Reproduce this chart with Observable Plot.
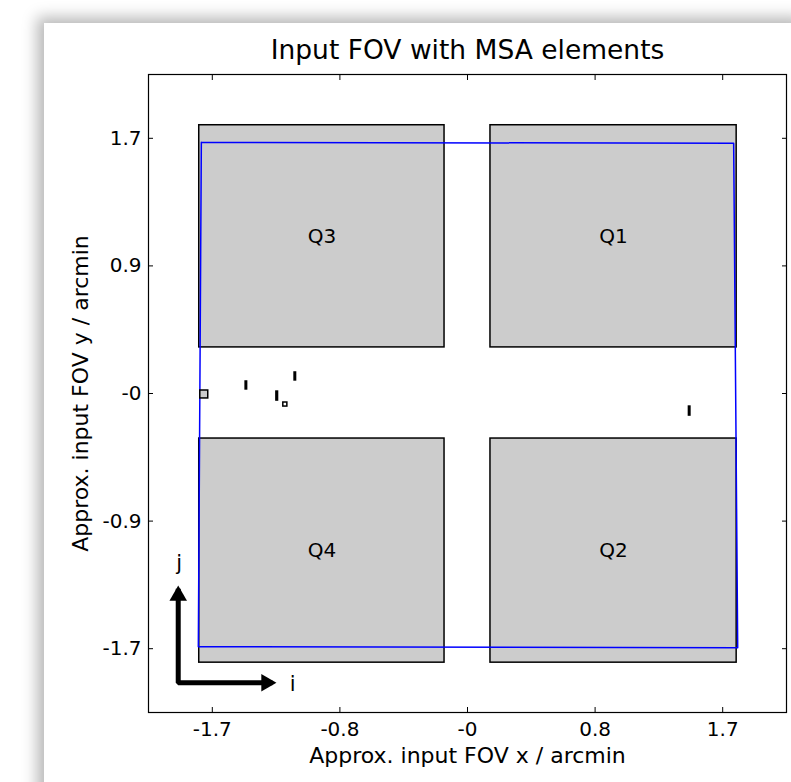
<!DOCTYPE html>
<html>
<head>
<meta charset="utf-8">
<script src="https://cdn.jsdelivr.net/npm/d3@7"></script>
<script src="https://cdn.jsdelivr.net/npm/@observablehq/plot@0.6"></script>
<style>
  html, body { margin: 0; padding: 0; background: #ffffff; overflow: hidden; }
  #card {
    position: absolute; left: 44px; top: 23px; width: 760px; height: 780px;
    background: #ffffff;
    box-shadow: -4px -3px 14px 3px rgba(0,0,0,0.28);
  }
  #chart { position: absolute; left: 0; top: 0; }
  svg { font-family: "DejaVu Sans", sans-serif; }
</style>
</head>
<body>
<div id="card"><div id="chart"></div></div>
<script>
// Quadrant boxes (arcmin)
const quadNames = ["Q3", "Q1", "Q4", "Q2"];
const quadX1 = [-1.787, 0.153, -1.787, 0.153];
const quadX2 = [-0.153, 1.793, -0.153, 1.793];
const quadY1 = [0.307, 0.307, -1.793, -1.793];
const quadY2 = [1.787, 1.787, -0.300, -0.300];

// Input FOV outline (closed)
const fovX = [-1.773, 1.773, 1.800, -1.793, -1.773];
const fovY = [1.673, 1.667, -1.693, -1.687, 1.673];

// Small MSA elements
const elemX1 = [-1.780, -1.478, -1.273, -1.227, -1.152, 1.475];
const elemX2 = [-1.727, -1.468, -1.262, -1.200, -1.142, 1.485];
const elemY1 = [-0.033, 0.027, -0.047, -0.087, 0.087, -0.147];
const elemY2 = [0.020, 0.080, 0.013, -0.060, 0.140, -0.087];
const elemFill = ["#cccccc", "black", "black", "none", "black", "black"];

// Orientation arrows (i, j)
const arrowX = [-1.300, -1.927, -1.927];
const arrowY = [-1.927, -1.927, -1.300];
const arrowTipX = [-1.280, -1.927];
const arrowTipY = [-1.927, -1.287];
const arrowLabels = ["i", "j"];
const arrowLabelX = [-1.165, -1.920];
const arrowLabelY = [-1.940, -1.133];

// Ticks
const xTicks = [-1.7, -0.85, 0, 0.85, 1.7];
const xTickLabels = ["-1.7", "-0.8", "-0", "0.8", "1.7"];
const yTicks = [-1.7, -0.85, 0, 0.85, 1.7];
const yTickLabels = ["-1.7", "-0.9", "-0", "0.9", "1.7"];

const title = "Input FOV with MSA elements";
const xLabel = "Approx. input FOV x / arcmin";
const yLabel = "Approx. input FOV y / arcmin";

const quads = quadNames.map((n, i) => ({name: n, x1: quadX1[i], x2: quadX2[i], y1: quadY1[i], y2: quadY2[i],
  cx: (quadX1[i] + quadX2[i]) / 2, cy: (quadY1[i] + quadY2[i]) / 2}));
const fov = fovX.map((x, i) => ({x, y: fovY[i]}));
const elems = elemX1.map((x1, i) => ({x1, x2: elemX2[i], y1: elemY1[i], y2: elemY2[i], fill: elemFill[i]}));
const arrowPath = arrowX.map((x, i) => ({x, y: arrowY[i]}));
const xMap = new Map(xTicks.map((t, i) => [t, xTickLabels[i]]));
const yMap = new Map(yTicks.map((t, i) => [t, yTickLabels[i]]));

const plot = Plot.plot({
  width: 747, height: 759,
  marginLeft: 104, marginRight: 5, marginTop: 51, marginBottom: 70,
  style: {fontFamily: "DejaVu Sans, sans-serif", background: "transparent"},
  x: {domain: [-2.125, 2.125], axis: null},
  y: {domain: [-2.125, 2.125], axis: null},
  marks: [
    Plot.rect(quads, {x1: "x1", x2: "x2", y1: "y1", y2: "y2", fill: "#cccccc", stroke: "black", strokeWidth: 1.5}),
    Plot.text(quads, {x: "cx", y: "cy", text: "name", fontSize: 20, fill: "black"}),
    Plot.line(fov, {x: "x", y: "y", stroke: "#0000ff", strokeWidth: 1.5}),
    Plot.rect(elems, {x1: "x1", x2: "x2", y1: "y1", y2: "y2", fill: "fill", stroke: "black", strokeWidth: 1.5}),
    Plot.line(arrowPath, {x: "x", y: "y", stroke: "black", strokeWidth: 5, strokeLinejoin: "miter", strokeLinecap: "butt"}),
    Plot.dot([0], {x: () => arrowTipX[0], y: () => arrowTipY[0], symbol: "triangle", r: 6.5, rotate: 90, dx: -9, fill: "black", stroke: null}),
    Plot.dot([0], {x: () => arrowTipX[1], y: () => arrowTipY[1], symbol: "triangle", r: 6.5, dy: 9, fill: "black", stroke: null}),
    Plot.text(arrowLabels, {x: (d, i) => arrowLabelX[i], y: (d, i) => arrowLabelY[i], text: d => d, fontSize: 21, fill: "black"}),
    Plot.frame({stroke: "black", strokeWidth: 1.2}),
    Plot.axisX(xTicks, {anchor: "bottom", tickSize: -5, tickPadding: 14, tickFormat: d => xMap.get(d), fontSize: 20, label: null, stroke: "black"}),
    Plot.axisX(xTicks, {anchor: "top", tickSize: -5, tickFormat: () => "", label: null}),
    Plot.axisY(yTicks, {anchor: "left", tickSize: -5, tickPadding: 12, tickFormat: d => yMap.get(d), fontSize: 20, label: null}),
    Plot.axisY(yTicks, {anchor: "right", tickSize: -5, tickFormat: () => "", label: null}),
    Plot.text([title], {frameAnchor: "top", lineAnchor: "middle", dy: -24, fontSize: 26.5, fill: "black"}),
    Plot.text([xLabel], {frameAnchor: "bottom", lineAnchor: "middle", dy: 43, fontSize: 22, fill: "black"}),
    Plot.text([yLabel], {frameAnchor: "left", textAnchor: "middle", lineAnchor: "middle", dx: -68, rotate: -90, fontSize: 22, fill: "black"})
  ]
});
document.getElementById("chart").appendChild(plot);
</script>
</body>
</html>
